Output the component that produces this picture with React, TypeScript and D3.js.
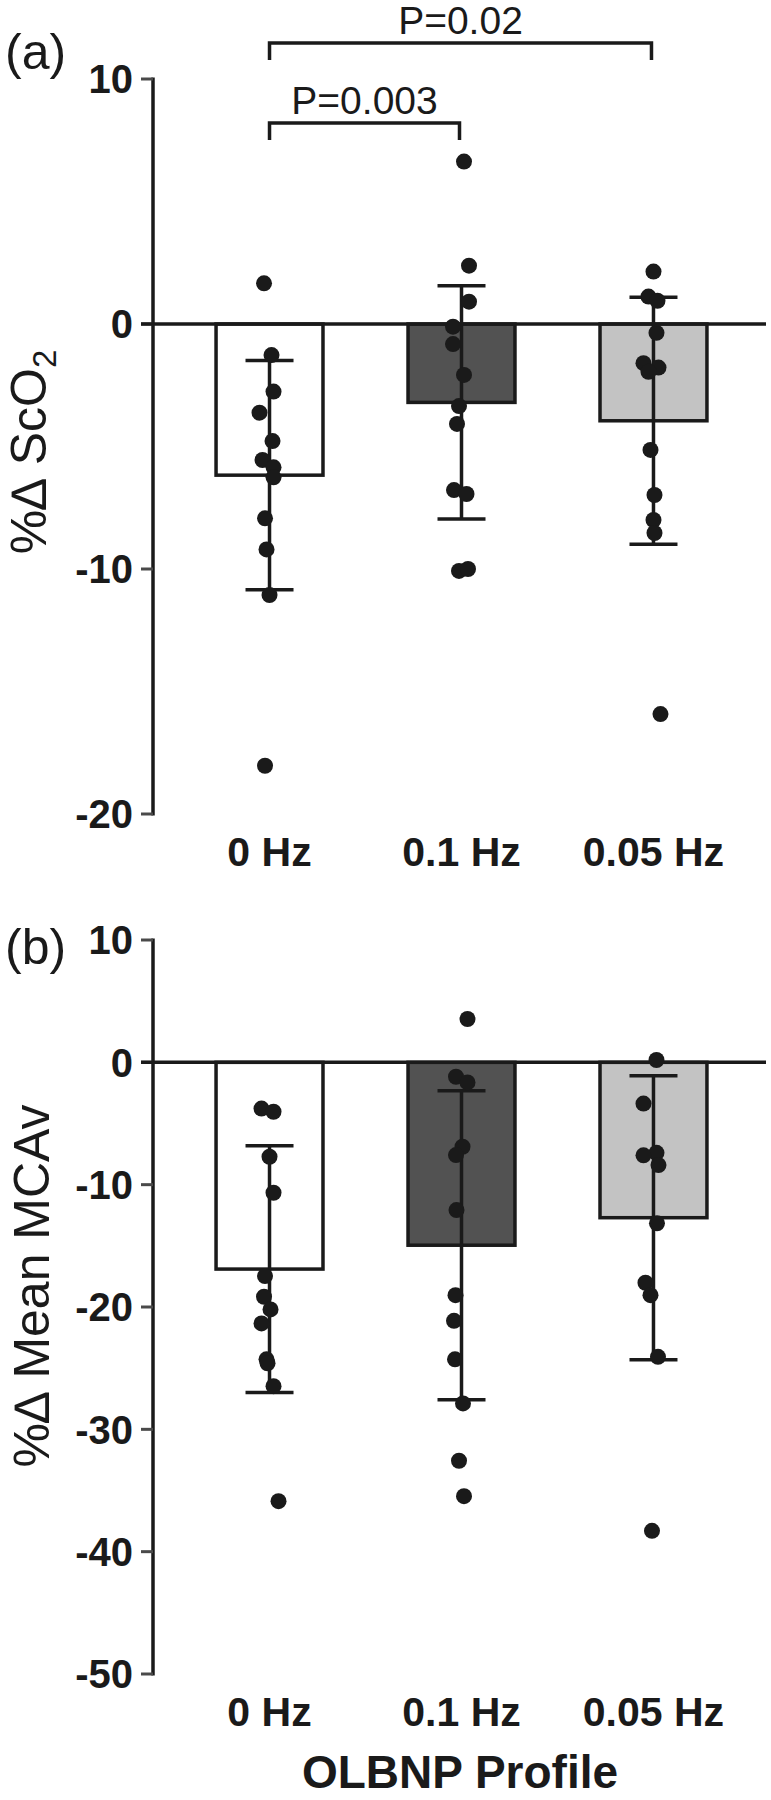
import React, { useEffect, useRef } from 'react';
import * as d3 from 'd3';

const categories = ['0 Hz', '0.1 Hz', '0.05 Hz'];
const barFills = ['#ffffff', '#525252', '#c3c3c3'];

// panel (a) %Δ ScO2
const scoMeans = [-6.17, -3.2, -3.95];
const scoSD = [4.68, 4.76, 5.04];
const scoPoints = [
  [1.66, -1.27, -2.76, -3.62, -4.78, -5.55, -5.85, -6.26, -7.93, -9.2, -11.06, -18.03],
  [6.63, 2.38, 0.91, -0.11, -0.82, -2.08, -3.35, -4.08, -6.78, -6.94, -10.08, -10.0],
  [2.14, 1.12, 0.95, -0.36, -1.6, -1.78, -1.95, -5.14, -6.98, -8.0, -8.53, -15.92],
];
// horizontal jitter of each dot (px from the group centre)
const scoJitter = [
  [-5.5, 2, 4, -10, 3, -7, 4, 4, -4.5, -3, 0, -4.5],
  [2.5, 7.5, 7.5, -8.5, -8.5, 2.5, -2.5, -4.5, -7.5, 5, -2.5, 6.5],
  [0, -5, 4, 3, -10, 5, -5, -3, 1, 0, 1, 7],
];
const scoTicks = [10, 0, -10, -20];

// panel (b) %Δ Mean MCAv
const mcaMeans = [-16.9, -14.95, -12.7];
const mcaSD = [10.08, 12.63, 11.61];
const mcaPoints = [
  [-3.78, -4.04, -7.72, -10.66, -17.47, -19.16, -20.2, -21.34, -24.28, -24.6, -26.47, -35.87],
  [3.54, -1.18, -1.64, -6.9, -7.58, -12.08, -19.03, -21.13, -24.28, -27.88, -32.57, -35.46],
  [0.19, -3.37, -7.4, -7.6, -8.4, -13.16, -18.02, -19.03, -24.07, -38.3],
];
const mcaJitter = [
  [-8, 4, 0, 4, -4.5, -5.5, 1, -8, -3, -2, 4, 9],
  [6, -5.5, 6, 1, -5.5, -5, -6, -7.5, -6.5, 1.5, -2.5, 2.5],
  [3, -10, 3, -10, 5, 3.5, -8, -3, 4.5, -1.5],
];
const mcaTicks = [10, 0, -10, -20, -30, -40, -50];

const comparisons = [
  { from: '0 Hz', to: '0.1 Hz', label: 'P=0.003', level: 0 },
  { from: '0 Hz', to: '0.05 Hz', label: 'P=0.02', level: 1 },
];

const FONT = '"Liberation Sans", Arial, Helvetica, sans-serif';
const INK = '#1a1a1a';

const App = () => {
  const ref = useRef<SVGSVGElement>(null);

  useEffect(() => {
    const svg = d3.select(ref.current);
    svg.selectAll('*').remove();

    const xScale = d3.scaleBand()
      .domain(categories)
      .range([155, 768])
      .paddingInner(0.443)
      .paddingOuter(0.318);
    const cx = (c: string) => (xScale(c) as number) + xScale.bandwidth() / 2;

    const drawPanel = (opts) => {
      const { top, bottom, domain, ticks, means, sds, points, jitter, tag, tagY, title, titleX, titleY, sub } = opts;
      const yScale = d3.scaleLinear().domain(domain).range([bottom, top]);
      const g = svg.append('g');

      // axis line + ticks
      g.append('line')
        .attr('x1', 153).attr('x2', 153)
        .attr('y1', yScale(domain[1]) - 1.5).attr('y2', yScale(domain[0]) + 1.5)
        .attr('stroke', INK).attr('stroke-width', 3.5);
      g.selectAll('.tick')
        .data(ticks)
        .enter().append('line')
        .attr('x1', 141).attr('x2', 153)
        .attr('y1', d => yScale(d)).attr('y2', d => yScale(d))
        .attr('stroke', '#4a4a4a').attr('stroke-width', 3);
      g.selectAll('.ticklabel')
        .data(ticks)
        .enter().append('text')
        .attr('x', 133)
        .attr('y', d => yScale(d))
        .attr('dy', '0.36em')
        .attr('text-anchor', 'end')
        .style('font-family', FONT)
        .style('font-weight', 'bold')
        .style('font-size', '40px')
        .style('fill', INK)
        .text(d => d);

      // bars
      g.selectAll('.bar')
        .data(means)
        .enter().append('rect')
        .attr('x', (d, i) => xScale(categories[i]) as number)
        .attr('y', yScale(0))
        .attr('width', xScale.bandwidth())
        .attr('height', d => yScale(d) - yScale(0))
        .attr('fill', (d, i) => barFills[i])
        .attr('stroke', INK)
        .attr('stroke-width', 3.5);

      // zero line
      g.append('line')
        .attr('x1', 141).attr('x2', 766)
        .attr('y1', yScale(0)).attr('y2', yScale(0))
        .attr('stroke', INK).attr('stroke-width', 3.5);

      // error bars (mean ± SD)
      means.forEach((m, i) => {
        const x = cx(categories[i]);
        const hi = yScale(m + sds[i]);
        const lo = yScale(m - sds[i]);
        g.append('line').attr('x1', x).attr('x2', x).attr('y1', hi).attr('y2', lo)
          .attr('stroke', INK).attr('stroke-width', 3.5);
        [hi, lo].forEach(y => {
          g.append('line').attr('x1', x - 24).attr('x2', x + 24).attr('y1', y).attr('y2', y)
            .attr('stroke', INK).attr('stroke-width', 3.5);
        });
      });

      // individual points
      points.forEach((vals, i) => {
        g.selectAll(null)
          .data(vals)
          .enter().append('circle')
          .attr('cx', (d, j) => cx(categories[i]) + jitter[i][j])
          .attr('cy', d => yScale(d))
          .attr('r', 8)
          .attr('fill', INK);
      });

      // category labels
      g.selectAll('.cat')
        .data(categories)
        .enter().append('text')
        .attr('x', d => cx(d))
        .attr('y', bottom + 52)
        .attr('text-anchor', 'middle')
        .style('font-family', FONT)
        .style('font-weight', 'bold')
        .style('font-size', '41px')
        .style('fill', INK)
        .text(d => d);

      // panel tag
      g.append('text')
        .attr('x', 5).attr('y', tagY)
        .style('font-family', FONT)
        .style('font-size', '50px')
        .style('fill', INK)
        .text(tag);

      // y title
      const t = g.append('text')
        .attr('transform', `translate(${titleX}, ${titleY}) rotate(-90)`)
        .attr('text-anchor', 'middle')
        .style('font-family', FONT)
        .style('font-size', '50px')
        .style('fill', INK);
      t.append('tspan').text(title);
      if (sub) {
        t.append('tspan').attr('dy', 10).style('font-size', '33px').text(sub);
      }
      return yScale;
    };

    drawPanel({
      top: 79, bottom: 814, domain: [-20, 10], ticks: scoTicks,
      means: scoMeans, sds: scoSD, points: scoPoints, jitter: scoJitter,
      tag: '(a)', tagY: 69, title: '%\u2206 ScO', sub: '2', titleX: 46, titleY: 452,
    });
    drawPanel({
      top: 940, bottom: 1674, domain: [-50, 10], ticks: mcaTicks,
      means: mcaMeans, sds: mcaSD, points: mcaPoints, jitter: mcaJitter,
      tag: '(b)', tagY: 964, title: '%\u2206 Mean MCAv', sub: null, titleX: 49, titleY: 1286,
    });

    // significance brackets on panel (a)
    const levelY = [123, 43];
    comparisons.forEach(c => {
      const x1 = cx(c.from);
      const x2 = cx(c.to) - 2;
      const y = levelY[c.level];
      svg.append('path')
        .attr('d', `M${x1},${y + 17}V${y}H${x2}V${y + 17}`)
        .attr('fill', 'none')
        .attr('stroke', INK)
        .attr('stroke-width', 3.5);
      svg.append('text')
        .attr('x', (x1 + x2) / 2)
        .attr('y', y - 9)
        .attr('text-anchor', 'middle')
        .style('font-family', FONT)
        .style('font-size', '39px')
        .style('fill', INK)
        .text(c.label);
    });

    // x title
    svg.append('text')
      .attr('x', 460).attr('y', 1788)
      .attr('text-anchor', 'middle')
      .style('font-family', FONT)
      .style('font-weight', 'bold')
      .style('font-size', '46px')
      .style('fill', INK)
      .text('OLBNP Profile');
  }, []);

  return (
    <svg
      ref={ref}
      width={771}
      height={1800}
      style={{ position: 'absolute', left: 0, top: 0, background: '#fff' }}
    />
  );
};

export default App;
